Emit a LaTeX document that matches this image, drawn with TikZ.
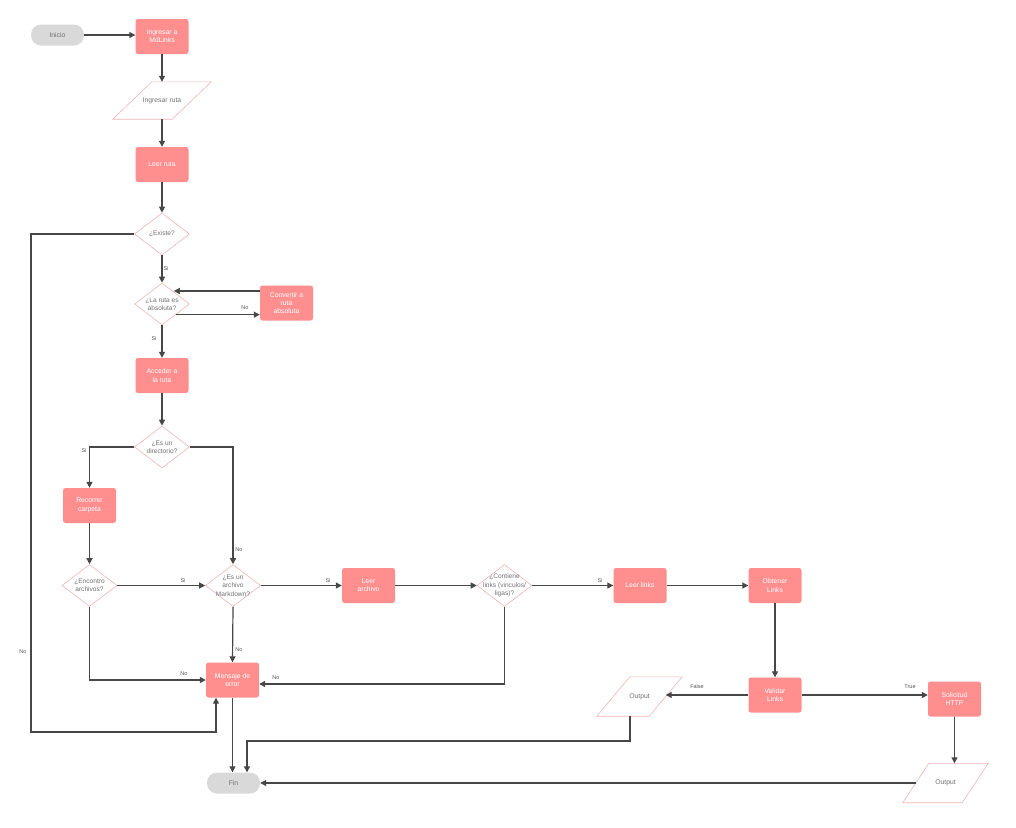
\documentclass[tikz,border=0pt]{standalone}
\usepackage{fontspec}
\setmainfont{Liberation Sans}
\usetikzlibrary{shapes.geometric,arrows.meta,calc}
\definecolor{boxc}{HTML}{FF8F8F}
\definecolor{termc}{HTML}{D9D9D9}
\definecolor{edgec}{HTML}{F2B3B3}
\definecolor{linec}{HTML}{474747}
\definecolor{txtg}{HTML}{707070}
\definecolor{lblc}{HTML}{555555}
\begin{document}
\begin{tikzpicture}[x=1pt,y=-1pt,
  proc/.style={rectangle, rounded corners=2.5pt, fill=boxc, text=white, minimum width=53pt, minimum height=35pt, inner sep=1pt, align=center, font=\fontsize{6.8}{8.3}\selectfont},
  term/.style={rectangle, rounded corners=10pt, fill=termc, text=txtg, minimum width=53pt, minimum height=21pt, inner sep=1pt, font=\fontsize{6.8}{8.3}\selectfont},
  dia/.style={diamond, draw=edgec, line width=0.6pt, minimum width=55pt, minimum height=42pt, inner sep=0pt},
  dtxt/.style={text=txtg, align=center, inner sep=0pt, font=\fontsize{6.6}{8.3}\selectfont},
  parabox/.style={rectangle, text=txtg, inner sep=0pt, font=\fontsize{6.8}{8.3}\selectfont},
  paraline/.style={draw=edgec, line width=0.6pt},
  arr/.style={draw=linec, line width=1.2pt, -{Triangle[length=6pt,width=6pt]}},
  lbl/.style={text=lblc, inner sep=0pt, font=\fontsize{5.5}{6}\selectfont}]
\useasboundingbox (0,0) rectangle (1016,827);

% nodes
\node[term] (Inicio) at (57.5,35) {Inicio};
\node[proc] (Ing) at (162,36.5) {Ingresar a\\MdLinks};
\node[parabox, minimum width=98pt, minimum height=37pt] (Ruta) at (162,100.5) {Ingresar ruta};
\draw[paraline] (Ruta.south west) -- ($(Ruta.north west)+(39,0)$) -- (Ruta.north east) -- ($(Ruta.south east)+(-39,0)$) -- cycle;
\node[proc] (Leer) at (162,164.5) {Leer ruta};
\node[dia] (Existe) at (162,234) {};
\node[dtxt] (ExisteT) at (Existe) {¿Existe?};
\node[dia] (Abs) at (162,304) {};
\node[dtxt] (AbsT) at (Abs) {¿La ruta es\\absoluta?};
\node[proc] (Conv) at (286.5,303) {Convertir a\\ruta\\absoluta};
\node[proc] (Acc) at (162,375.5) {Acceder a\\la ruta};
\node[dia] (Dir) at (162,447) {};
\node[dtxt] (DirT) at (Dir) {¿Es un\\directorio?};
\node[proc] (Rec) at (89.5,505.5) {Recorrer\\carpeta};
\node[dia] (Enc) at (89.5,585.5) {};
\node[dtxt] (EncT) at (Enc) {¿Encontro\\archivos?};
\node[dia] (Md) at (233,585.5) {};
\node[dtxt] (MdT) at (Md) {¿Es un\\archivo\\Markdown?};
\node[proc] (LeerA) at (368.5,585.5) {Leer\\archivo};
\node[dia] (Cont) at (504.5,585.5) {};
\node[dtxt] (ContT) at (Cont) {¿Contiene\\links (vinculos/\\ligas)?};
\node[proc] (LeerL) at (640,585.5) {Leer links};
\node[proc] (Obt) at (775,585.5) {Obtener\\Links};
\node[proc] (Men) at (232.5,680) {Mensaje de\\error};
\node[term] (Fin) at (233.5,783) {Fin};
\node[proc] (Val) at (775,695) {Validar\\Links};
\node[proc] (Sol) at (954.5,699) {Solicitud\\HTTP};
\node[parabox, minimum width=85pt, minimum height=39pt] (Out1) at (639.5,696.5) {Output};
\draw[paraline] (Out1.south west) -- ($(Out1.north west)+(33,0)$) -- (Out1.north east) -- ($(Out1.south east)+(-33,0)$) -- cycle;
\node[parabox, minimum width=85pt, minimum height=39pt] (Out2) at (945.5,783) {Output};
\draw[paraline] (Out2.south west) -- ($(Out2.north west)+(26,0)$) -- (Out2.north east) -- ($(Out2.south east)+(-26,0)$) -- cycle;

\coordinate (Out1e) at ($(Out1.east)+(-16.5,0)$);
\coordinate (Out1b) at ($(Out1.south)+(-9.5,0)$);
\coordinate (Out2w) at ($(Out2.west)+(13,0)$);
\coordinate (nl) at (31,732);
\coordinate (nr) at (216,732);
\coordinate (m2) at (247,741);

% connectors
\draw[arr] (Inicio.east) -- (Inicio.east -| Ing.west);
\draw[arr] (Ing.south) -- (Ruta.north);
\draw[arr] (Ruta.south) -- (Leer.north);
\draw[arr] (Leer.south) -- (Existe.north);
\draw[arr] (Existe.south) -- (Abs.north);
\draw[arr] ($(Conv.west)+(0,-12)$) -- ($(Conv.west)+(-86,-12)$);
\draw[arr] (Abs.south east) -- (Abs.south east -| Conv.west);
\draw[arr] (Abs.south) -- (Acc.north);
\draw[arr] (Acc.south) -- (Dir.north);
\draw[arr] (Dir.west) -| (Rec.north);
\draw[arr] (Dir.east) -| (Md.north);
\draw[arr] (Rec.south) -- (Enc.north);
\draw[arr] (Enc.east) -- (Md.west);
\draw[arr] (Md.east) -- (LeerA.west);
\draw[arr] (LeerA.east) -- (Cont.west);
\draw[arr] (Cont.east) -- (LeerL.west);
\draw[arr] (LeerL.east) -- (Obt.west);
\draw[arr] (Md.south) -- (Men.north);
\draw[arr] (Enc.south) |- (Men.west);
\draw[arr] (Cont.south) |- ($(Men.east)+(0,4)$);
\draw[arr] (Existe.west) -| (nl) -- (nr) -- (nr |- Men.south);
\draw[arr] (Men.south) -- (Men.south |- Fin.north);
\draw[arr] (Obt.south) -- (Val.north);
\draw[arr] (Val.west) -- (Val.west -| Out1e);
\draw[arr] (Val.east) -- (Val.east -| Sol.west);
\draw[arr] (Sol.south) -- (Sol.south |- Out2.north);
\draw[arr] (Out2w) -- (Out2w -| Fin.east);
\draw[arr] (Out1b) |- (m2) -- (m2 |- Fin.north);

% labels
\node[lbl] (l1) at (166,269) {Si};
\node[lbl] (l2) at (245,308) {No};
\node[lbl] (l3) at (154,339) {Si};
\node[lbl] (l4) at (84,451) {Si};
\node[lbl] (l5) at (239,550) {No};
\node[lbl] (l6) at (183,581) {Si};
\node[lbl] (l7) at (328,581) {Si};
\node[lbl] (l8) at (600,581) {Si};
\node[lbl] (l9) at (239,650) {No};
\node[lbl] (l10) at (184,674) {No};
\node[lbl] (l11) at (276,678) {No};
\node[lbl] (l12) at (23,652) {No};
\node[lbl] (l13) at (697,687) {False};
\node[lbl] (l14) at (910,687) {True};
\end{tikzpicture}
\end{document}
